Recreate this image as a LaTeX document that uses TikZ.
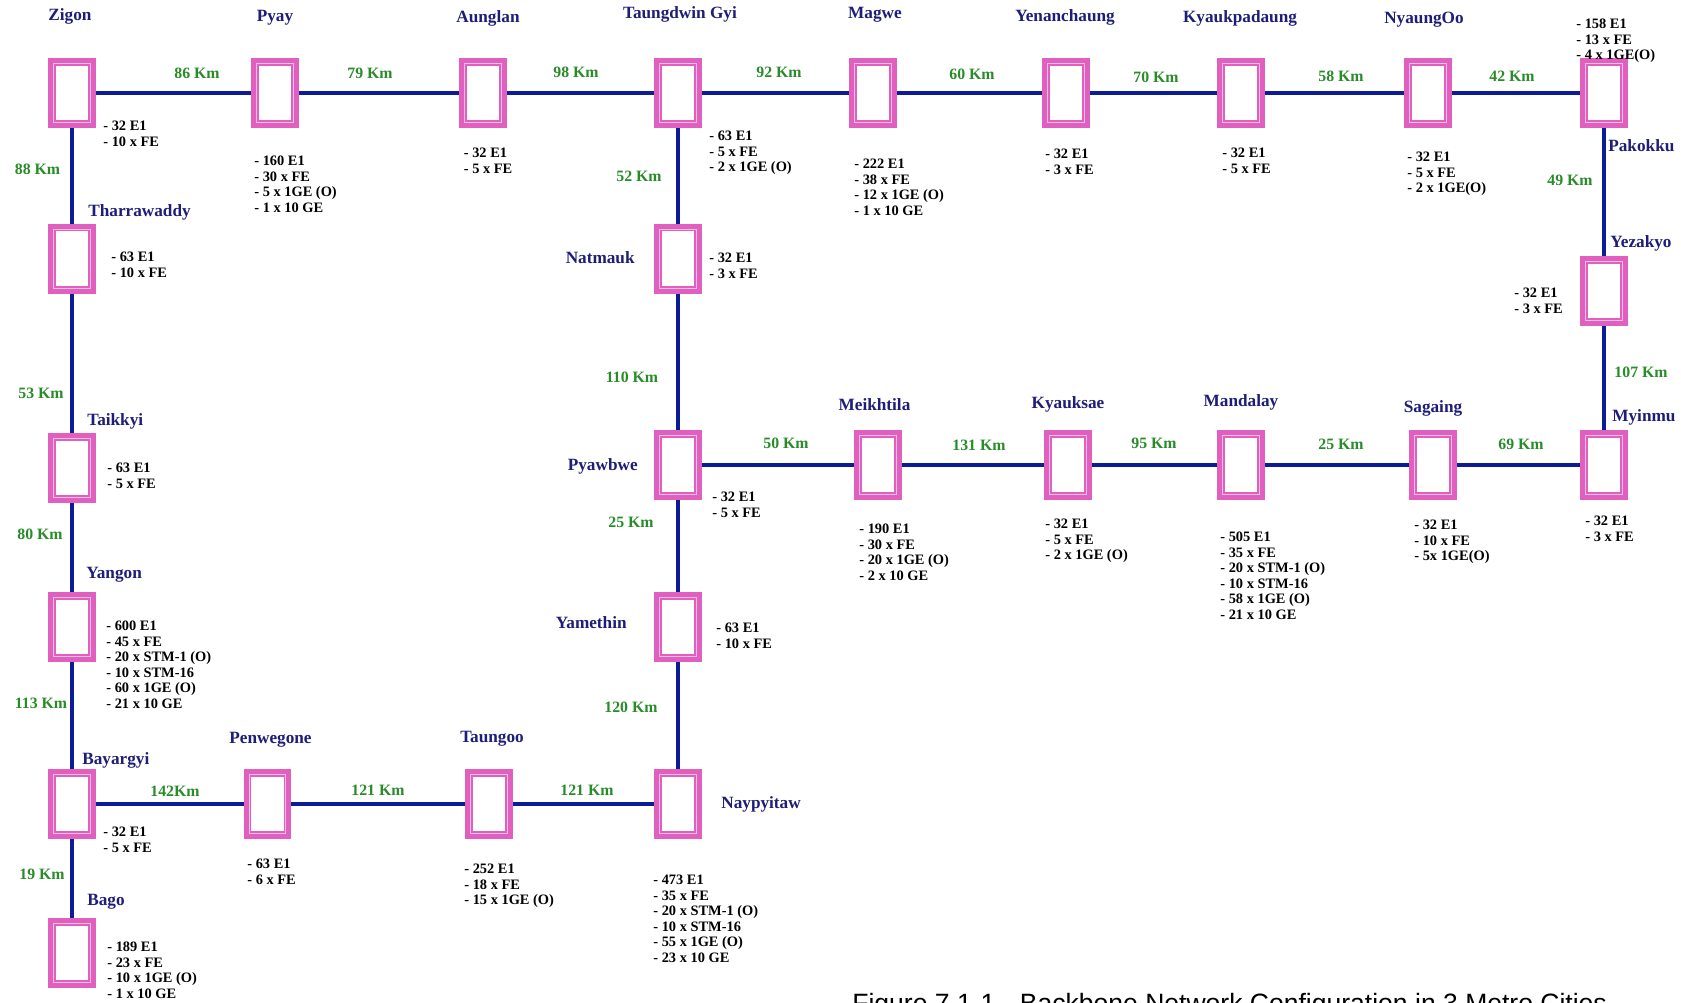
\documentclass[tikz,border=0pt]{standalone}
\usepackage{fontspec}
\setmainfont{Liberation Serif}
\newfontfamily\capfont{Liberation Sans}
\definecolor{namec}{RGB}{30,30,120}
\definecolor{greenc}{RGB}{40,140,40}
\definecolor{linec}{RGB}{12,28,150}
\definecolor{pinkc}{RGB}{225,95,190}
\definecolor{pinkl}{RGB}{244,190,230}
\tikzset{
  box/.style={fill=pinkc, minimum width=9.6mm, minimum height=14mm, inner sep=0, outer sep=0,
    path picture={
      \fill[pinkl] ([shift={(1mm,-1mm)}]path picture bounding box.north west) rectangle ([shift={(-1mm,1mm)}]path picture bounding box.south east);
      \fill[pinkc] ([shift={(1.2mm,-1.2mm)}]path picture bounding box.north west) rectangle ([shift={(-1.2mm,1.2mm)}]path picture bounding box.south east);
      \fill[white] ([shift={(1.55mm,-1.55mm)}]path picture bounding box.north west) rectangle ([shift={(-1.55mm,1.55mm)}]path picture bounding box.south east);
    }},
  link/.style={draw=linec, line width=0.8mm},
  cname/.style={font=\bfseries\fontsize{9.8}{11}\selectfont, text=namec, inner sep=0},
  dist/.style={font=\bfseries\fontsize{9}{10}\selectfont, text=greenc, inner sep=0, anchor=base},
  capa/.style={font=\bfseries\fontsize{8.2}{8.8}\selectfont, align=left, inner sep=0, anchor=north west}
}
\begin{document}
\begin{tikzpicture}[x=0.02cm, y=-0.02cm]
\useasboundingbox (0,0) rectangle (1681,1002);
\fill[white] (0,0) rectangle (1681,1002);
% boxes
\node[box] (zigon) at (72,93) {};
\node[box] (pyay) at (275,93) {};
\node[box] (aunglan) at (483,93) {};
\node[box] (taungdwin) at (678,93) {};
\node[box] (magwe) at (873,93) {};
\node[box] (yenan) at (1066,93) {};
\node[box] (kyaukpa) at (1241,93) {};
\node[box] (nyaungoo) at (1428,93) {};
\node[box] (pakokku) at (1604,93) {};
\node[box] (tharra) at (72,258.5) {};
\node[box] (taikkyi) at (72,468) {};
\node[box] (yangon) at (72,627) {};
\node[box] (bayargyi) at (72,804) {};
\node[box] (bago) at (72,953) {};
\node[box] (natmauk) at (678,258.5) {};
\node[box] (pyawbwe) at (678,465) {};
\node[box] (yamethin) at (678,627) {};
\node[box] (naypyitaw) at (678,804) {};
\node[box] (penwegone) at (267.5,804) {};
\node[box] (taungoo) at (489,804) {};
\node[box] (meikhtila) at (878,465) {};
\node[box] (kyauksae) at (1068,465) {};
\node[box] (mandalay) at (1241,465) {};
\node[box] (sagaing) at (1433,465) {};
\node[box] (myinmu) at (1604,465) {};
\node[box] (yezakyo) at (1604,291) {};
% links
\draw[link] (zigon) -- (pyay);
\draw[link] (pyay) -- (aunglan);
\draw[link] (aunglan) -- (taungdwin);
\draw[link] (taungdwin) -- (magwe);
\draw[link] (magwe) -- (yenan);
\draw[link] (yenan) -- (kyaukpa);
\draw[link] (kyaukpa) -- (nyaungoo);
\draw[link] (nyaungoo) -- (pakokku);
\draw[link] (zigon) -- (tharra);
\draw[link] (tharra) -- (taikkyi);
\draw[link] (taikkyi) -- (yangon);
\draw[link] (yangon) -- (bayargyi);
\draw[link] (bayargyi) -- (bago);
\draw[link] (bayargyi) -- (penwegone);
\draw[link] (penwegone) -- (taungoo);
\draw[link] (taungoo) -- (naypyitaw);
\draw[link] (taungdwin) -- (natmauk);
\draw[link] (natmauk) -- (pyawbwe);
\draw[link] (pyawbwe) -- (yamethin);
\draw[link] (yamethin) -- (naypyitaw);
\draw[link] (pyawbwe) -- (meikhtila);
\draw[link] (meikhtila) -- (kyauksae);
\draw[link] (kyauksae) -- (mandalay);
\draw[link] (mandalay) -- (sagaing);
\draw[link] (sagaing) -- (myinmu);
\draw[link] (pakokku) -- (yezakyo);
\draw[link] (yezakyo) -- (myinmu);
% names
\node[cname, anchor=base] (n1) at (70,20) {Zigon};
\node[cname, anchor=base] (n2) at (275,21.5) {Pyay};
\node[cname, anchor=base] (n3) at (488,22.5) {Aunglan};
\node[cname, anchor=base] (n4) at (680,18.5) {Taungdwin Gyi};
\node[cname, anchor=base] (n5) at (875,18.5) {Magwe};
\node[cname, anchor=base] (n6) at (1065,21.5) {Yenanchaung};
\node[cname, anchor=base] (n7) at (1240,22.5) {Kyaukpadaung};
\node[cname, anchor=base] (n8) at (1424,23.5) {NyaungOo};
\node[cname, anchor=base west] (n9) at (1608,151.5) {Pakokku};
\node[cname, anchor=base west] (n10) at (1610,247.5) {Yezakyo};
\node[cname, anchor=base west] (n11) at (88,216.5) {Tharrawaddy};
\node[cname, anchor=base west] (n12) at (87,425.5) {Taikkyi};
\node[cname, anchor=base west] (n13) at (86,578.5) {Yangon};
\node[cname, anchor=base west] (n14) at (82,764.5) {Bayargyi};
\node[cname, anchor=base west] (n15) at (87,905.5) {Bago};
\node[cname, anchor=base] (n16) at (270.5,743.5) {Penwegone};
\node[cname, anchor=base] (n17) at (492,742.5) {Taungoo};
\node[cname, anchor=base west] (n18) at (721,808.5) {Naypyitaw};
\node[cname, anchor=base east] (n19) at (635,263.5) {Natmauk};
\node[cname, anchor=base east] (n20) at (638,470.5) {Pyawbwe};
\node[cname, anchor=base east] (n21) at (627,628.5) {Yamethin};
\node[cname, anchor=base] (n22) at (874.5,410.5) {Meikhtila};
\node[cname, anchor=base] (n23) at (1068,408.5) {Kyauksae};
\node[cname, anchor=base] (n24) at (1241,406.5) {Mandalay};
\node[cname, anchor=base] (n25) at (1433,412.5) {Sagaing};
\node[cname, anchor=base west] (n26) at (1612,421.5) {Myinmu};
% distances
\node[dist] (d1) at (197,78.4) {86 Km};
\node[dist] (d2) at (370,78.4) {79 Km};
\node[dist] (d3) at (576,77.4) {98 Km};
\node[dist] (d4) at (779,77.4) {92 Km};
\node[dist] (d5) at (972,79.4) {60 Km};
\node[dist] (d6) at (1156,82.4) {70 Km};
\node[dist] (d7) at (1341,81.4) {58 Km};
\node[dist] (d8) at (1512,81.4) {42 Km};
\node[dist] (d9) at (37.5,174.4) {88 Km};
\node[dist] (d10) at (41,398.4) {53 Km};
\node[dist] (d11) at (40,539.4) {80 Km};
\node[dist] (d12) at (41,708.4) {113 Km};
\node[dist] (d13) at (42,879.4) {19 Km};
\node[dist] (d14) at (175,796.4) {142Km};
\node[dist] (d15) at (378,795.4) {121 Km};
\node[dist] (d16) at (587,795.4) {121 Km};
\node[dist] (d17) at (639,181.4) {52 Km};
\node[dist] (d18) at (632,382.4) {110 Km};
\node[dist] (d19) at (631,527.4) {25 Km};
\node[dist] (d20) at (631,712.4) {120 Km};
\node[dist] (d21) at (786,448.4) {50 Km};
\node[dist] (d22) at (979,450.4) {131 Km};
\node[dist] (d23) at (1154,448.4) {95 Km};
\node[dist] (d24) at (1341,449.4) {25 Km};
\node[dist] (d25) at (1521,449.4) {69 Km};
\node[dist] (d26) at (1570,185.4) {49 Km};
\node[dist] (d27) at (1641,377.4) {107 Km};
% capacities
\node[capa] (c1) at (103,121) {- 32 E1\\- 10 x FE};
\node[capa] (c2) at (254,156) {- 160 E1\\- 30 x FE\\- 5 x 1GE (O)\\- 1 x 10 GE};
\node[capa] (c3) at (463.5,148) {- 32 E1\\- 5 x FE};
\node[capa] (c4) at (111,252) {- 63 E1\\- 10 x FE};
\node[capa] (c5) at (709,131) {- 63 E1\\- 5 x FE\\- 2 x 1GE (O)};
\node[capa] (c6) at (854,159) {- 222 E1\\- 38 x FE\\- 12 x 1GE (O)\\- 1 x 10 GE};
\node[capa] (c7) at (1045,149) {- 32 E1\\- 3 x FE};
\node[capa] (c8) at (709,253) {- 32 E1\\- 3 x FE};
\node[capa] (c9) at (1222,148) {- 32 E1\\- 5 x FE};
\node[capa] (c10) at (1407,152) {- 32 E1\\- 5 x FE\\- 2 x 1GE(O)};
\node[capa] (c11) at (1576,19) {- 158 E1\\- 13 x FE\\- 4 x 1GE(O)};
\node[capa] (c12) at (1514,288) {- 32 E1\\- 3 x FE};
\node[capa] (c13) at (107,463) {- 63 E1\\- 5 x FE};
\node[capa] (c14) at (106,621) {- 600 E1\\- 45 x FE\\- 20 x STM-1 (O)\\- 10 x STM-16\\- 60 x 1GE (O)\\- 21 x 10 GE};
\node[capa] (c15) at (103,827) {- 32 E1\\- 5 x FE};
\node[capa] (c16) at (107,942) {- 189 E1\\- 23 x FE\\- 10 x 1GE (O)\\- 1 x 10 GE};
\node[capa] (c17) at (247,859) {- 63 E1\\- 6 x FE};
\node[capa] (c18) at (464,864) {- 252 E1\\- 18 x FE\\- 15 x 1GE (O)};
\node[capa] (c19) at (653,875) {- 473 E1\\- 35 x FE\\- 20 x STM-1 (O)\\- 10 x STM-16\\- 55 x 1GE (O)\\- 23 x 10 GE};
\node[capa] (c20) at (712,492) {- 32 E1\\- 5 x FE};
\node[capa] (c21) at (716,623) {- 63 E1\\- 10 x FE};
\node[capa] (c22) at (859,524) {- 190 E1\\- 30 x FE\\- 20 x 1GE (O)\\- 2 x 10 GE};
\node[capa] (c23) at (1045,519) {- 32 E1\\- 5 x FE\\- 2 x 1GE (O)};
\node[capa] (c24) at (1220,532) {- 505 E1\\- 35 x FE\\- 20 x STM-1 (O)\\- 10 x STM-16\\- 58 x 1GE (O)\\- 21 x 10 GE};
\node[capa] (c25) at (1414,520) {- 32 E1\\- 10 x FE\\- 5x 1GE(O)};
\node[capa] (c26) at (1585,516) {- 32 E1\\- 3 x FE};
% caption
\node[font=\capfont\fontsize{15.1}{17}\selectfont, inner sep=0, anchor=base west] (cap) at (852,1012) {Figure 7.1-1\hspace{14pt}Backbone Network Configuration in 3 Metro Cities};
\end{tikzpicture}
\end{document}
